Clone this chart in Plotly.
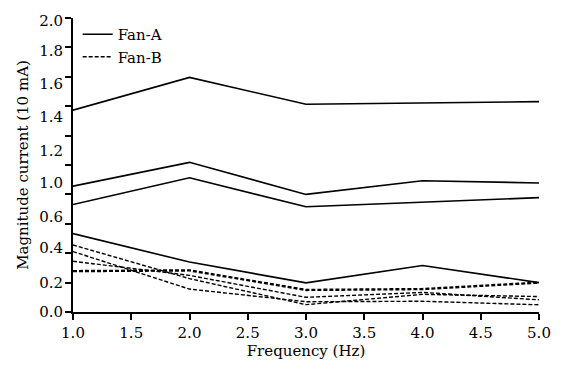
import plotly.graph_objects as go

freq = [1.0, 2.0, 3.0, 4.0, 5.0]

fan_a = [
    [1.373, 1.596, 1.413, 1.420, 1.431],
    [0.856, 1.018, 0.800, 0.893, 0.878],
    [0.731, 0.913, 0.716, 0.749, 0.778],
    [0.533, 0.340, 0.198, 0.316, 0.200],
]
fan_b = [
    [0.456, 0.227, 0.050, 0.120, 0.105],
    [0.411, 0.156, 0.070, 0.073, 0.049],
    [0.345, 0.249, 0.100, 0.133, 0.083],
    [0.278, 0.283, 0.150, 0.156, 0.200],
]

y_tick_vals = [0.0, 0.2, 0.4, 0.6, 0.8, 1.0, 1.2, 1.4, 1.6, 1.8, 2.0]
# label positions as they appear (shifted) in the source figure
y_label_pos = [0.0, 0.2, 0.44, 0.65, 0.878, 1.095, 1.33, 1.55, 1.78, 1.98]
y_label_text = ["0.0", "0.2", "0.4", "0.6", "1.0", "1.2", "1.4", "1.6", "1.8", "2.0"]
x_tick_vals = [1.0, 1.5, 2.0, 2.5, 3.0, 3.5, 4.0, 4.5, 5.0]

FONT = "DejaVu Serif"

fig = go.Figure()
for i, ys in enumerate(fan_a):
    fig.add_trace(go.Scatter(
        x=freq, y=ys, mode="lines", name="Fan-A", legendgroup="A",
        showlegend=(i == 0), line=dict(color="black", width=1.6)))
for i, ys in enumerate(fan_b):
    fig.add_trace(go.Scatter(
        x=freq, y=ys, mode="lines", name="Fan-B", legendgroup="B",
        showlegend=(i == 0),
        line=dict(color="black", width=(2.4 if i == 3 else 1.4), dash="4px,2px")))
# invisible helper trace so the label axis is drawn
fig.add_trace(go.Scatter(x=[freq[0]], y=[y_tick_vals[0]], yaxis="y2", mode="markers",
                         marker=dict(opacity=0), showlegend=False, hoverinfo="skip"))

fig.update_layout(
    width=563, height=369,
    margin=dict(l=73, r=24, t=12, b=57),
    paper_bgcolor="white", plot_bgcolor="white",
    font=dict(family=FONT, size=15, color="black"),
    showlegend=True,
    legend=dict(x=0.01, y=1.0, xanchor="left", yanchor="top",
                bgcolor="rgba(0,0,0,0)", font=dict(size=15, family=FONT),
                itemwidth=30, tracegroupgap=0),
    xaxis=dict(range=[1, 5], tickvals=x_tick_vals,
               ticktext=[f"{v:.1f}" for v in x_tick_vals],
               ticks="outside", ticklen=6, tickwidth=1.5, tickcolor="black",
               showline=True, linecolor="black", linewidth=1.5,
               showgrid=False, zeroline=False,
               title=dict(text="Frequency (Hz)", font=dict(size=15, family=FONT), standoff=2),
               tickfont=dict(size=15, family=FONT)),
    yaxis=dict(range=[0, 2], tickvals=y_tick_vals, showticklabels=False,
               ticks="outside", ticklen=6, tickwidth=1.5, tickcolor="black",
               showline=True, linecolor="black", linewidth=1.5,
               showgrid=False, zeroline=False),
    yaxis2=dict(range=[0, 2], overlaying="y", side="left",
                tickvals=y_label_pos, ticktext=y_label_text,
                ticks="outside", ticklen=6, tickcolor="rgba(0,0,0,0)",
                showline=False, showgrid=False, zeroline=False,
                tickfont=dict(size=15, family=FONT),
                title=dict(text="Magnitude current (10 mA)", font=dict(size=15, family=FONT), standoff=6)),
)

fig.write_html("out.html")
